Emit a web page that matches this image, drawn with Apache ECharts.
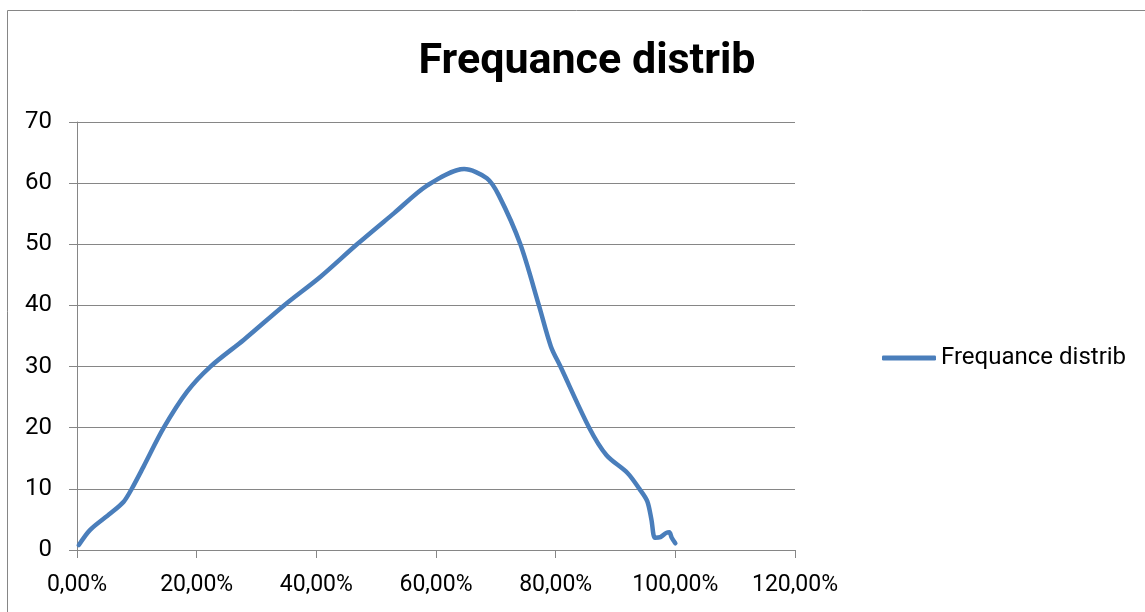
<!DOCTYPE html>
<html>
<head>
<meta charset="utf-8">
<script src="https://cdn.jsdelivr.net/npm/echarts@6/dist/echarts.min.js"></script>
<style>html,body{margin:0;padding:0;background:#fff}#c{width:1145px;height:612px}</style>
</head>
<body>
<div id="c"></div>
<script>
const titleText = 'Frequance distrib';
const seriesName = 'Frequance distrib';
const xPercent = [0.3, 2.2, 5.6, 7.8, 9.2, 11.1, 14.5, 18.4, 22.3, 27.9, 34.6, 40.7, 46.8, 53, 58.5, 64.7, 68.5, 70.5, 74.1, 77.2, 79.2, 80.8, 85.6, 88.5, 92, 94, 95.3, 96.0, 96.6, 97.5, 98.5, 99.0, 99.4, 100];
const yValues = [0.8, 3.3, 6.0, 7.9, 10.1, 13.6, 20, 25.9, 30, 34.4, 40, 44.7, 50, 55.1, 59.6, 62.3, 60.8, 58, 50, 40, 33.3, 30, 20, 15.5, 12.6, 10, 8, 5, 2, 2.1, 2.8, 2.9, 2, 1.1];
const yTicks = {min: 0, max: 70, interval: 10};
const xTicks = {min: 0, max: 120, interval: 20};

const data = xPercent.map((x, i) => [x, yValues[i]]);
const gray = '#868686';
const font = 'Roboto';
const chart = echarts.init(document.getElementById('c'));
chart.setOption({
  animation: false,
  backgroundColor: '#fff',
  title: {
    text: titleText,
    left: 582, top: 36, textAlign: 'center',
    textStyle: {fontFamily: font, fontWeight: 'bold', fontSize: 43, color: '#000'}
  },
  legend: {
    left: 877, top: 341,
    icon: 'roundRect', itemWidth: 54, itemHeight: 5, itemGap: 0,
    textStyle: {fontFamily: font, fontSize: 24, color: '#000'},
    data: [seriesName]
  },
  graphic: [{
    type: 'rect', shape: {x: 7.5, y: 10.5, width: 1300, height: 800},
    style: {fill: 'none', stroke: gray, lineWidth: 1}, silent: true, z: -1
  }],
  grid: {left: 77, right: 350, top: 122, bottom: 62, containLabel: false},
  xAxis: {
    type: 'value', min: xTicks.min, max: xTicks.max, interval: xTicks.interval,
    axisLine: {show: true, lineStyle: {color: gray, width: 1}},
    axisTick: {show: true, inside: false, length: 8, lineStyle: {color: gray}},
    splitLine: {show: false},
    axisLabel: {
      margin: 24, color: '#000', fontFamily: font, fontSize: 23,
      formatter: v => v.toFixed(2).replace('.', ',') + '%'
    }
  },
  yAxis: {
    type: 'value', min: yTicks.min, max: yTicks.max, interval: yTicks.interval,
    axisLine: {show: true, lineStyle: {color: gray, width: 1}},
    axisTick: {show: true, inside: false, length: 8, lineStyle: {color: gray}},
    splitLine: {show: true, lineStyle: {color: gray, width: 1}},
    axisLabel: {margin: 25, color: '#000', fontFamily: font, fontSize: 24}
  },
  series: [{
    name: seriesName, type: 'line', data: data, smooth: 0.3,
    symbol: 'none', showSymbol: false,
    lineStyle: {color: '#4A7EBB', width: 4.5, cap: 'round', join: 'round'},
    itemStyle: {color: '#4A7EBB'}
  }]
});
</script>
</body>
</html>
